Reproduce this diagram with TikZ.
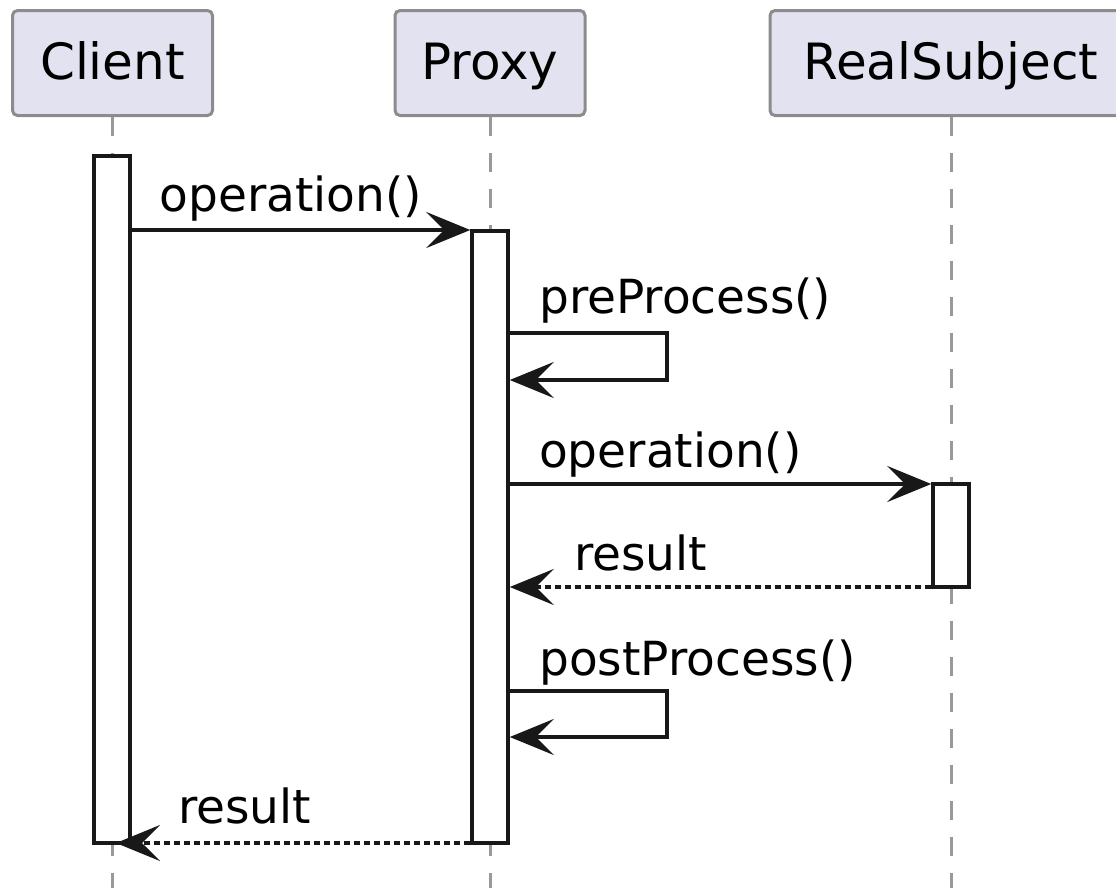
\documentclass[tikz,border=0pt]{standalone}
\usepackage{fontspec}
\setmainfont{DejaVu Sans}
\usetikzlibrary{arrows.meta}
\definecolor{partfill}{HTML}{E2E2F0}
\definecolor{partline}{HTML}{8C8C8C}
\definecolor{lifecol}{HTML}{999999}
\definecolor{ink}{HTML}{181818}
\begin{document}
\begin{tikzpicture}[x=1pt,y=-1pt,
  part/.style={draw=partline, fill=partfill, line width=3pt, rounded corners=5pt,
    minimum height=105pt, text height=40pt, text depth=8pt, inner sep=0pt,
    font=\fontsize{50}{60}\selectfont},
  life/.style={draw=lifecol, line width=3pt, dash pattern=on 19pt off 17pt},
  actbar/.style={draw=ink, fill=white, line width=3.5pt, minimum width=36pt, inner sep=0pt},
  msg/.style={draw=ink, line width=3.5pt, -{Stealth[length=44pt,width=36pt,inset=18pt]}},
  ret/.style={msg, dash pattern=on 6pt off 4pt},
  lbl/.style={anchor=base west, inner sep=0pt, font=\fontsize{47}{56}\selectfont, text=black}]
\useasboundingbox (0,0) rectangle (1116,887);
\clip (0,0) rectangle (1116,887);
% participants
\node[part, minimum width=200pt] (client) at (112.5,63) {Client};
\node[part, minimum width=190pt] (proxy) at (490,63) {Proxy};
\node[part, minimum width=362pt] (real) at (951,63) {RealSubject};
% lifelines
\coordinate (bot) at (0,892);
\draw[life] (client.south) -- (client.south |- bot);
\draw[life] (proxy.south) -- (proxy.south |- bot);
\draw[life] (real.south) -- (real.south |- bot);
% activation bars
\node[actbar, minimum height=687pt] (cbar) at (112,499.5) {};
\node[actbar, minimum height=612pt] (pbar) at (490,537) {};
\node[actbar, minimum height=103pt] (rbar) at (951,535.5) {};
% message levels
\coordinate (y1) at (0,230);
\coordinate (y2) at (0,333);
\coordinate (s2a) at (667,333);
\coordinate (s2b) at (667,380);
\coordinate (y3) at (0,484);
\coordinate (y4) at (0,587);
\coordinate (y5) at (0,691);
\coordinate (s5a) at (667,691);
\coordinate (s5b) at (667,737);
\coordinate (y6) at (0,843);
\coordinate (cend) at (116,843);
% messages
\draw[msg] (cbar.east |- y1) -- (pbar.west |- y1);
\draw[msg] (pbar.east |- y2) -- (s2a) -- (s2b) -- (pbar.east |- s2b);
\draw[msg] (pbar.east |- y3) -- (rbar.west |- y3);
\draw[ret] (rbar.west |- y4) -- (pbar.east |- y4);
\draw[msg] (pbar.east |- y5) -- (s5a) -- (s5b) -- (pbar.east |- s5b);
\draw[ret] (pbar.west |- y6) -- (cend);
% labels
\node[lbl] (l1) at (159.5,211) {operation()};
\node[lbl] (l2) at (539,313) {preProcess()};
\node[lbl] (l3) at (539,467) {operation()};
\node[lbl] (l4) at (574,570) {result};
\node[lbl] (l5) at (539,675) {postProcess()};
\node[lbl] (l6) at (178,823) {result};
\end{tikzpicture}
\end{document}
